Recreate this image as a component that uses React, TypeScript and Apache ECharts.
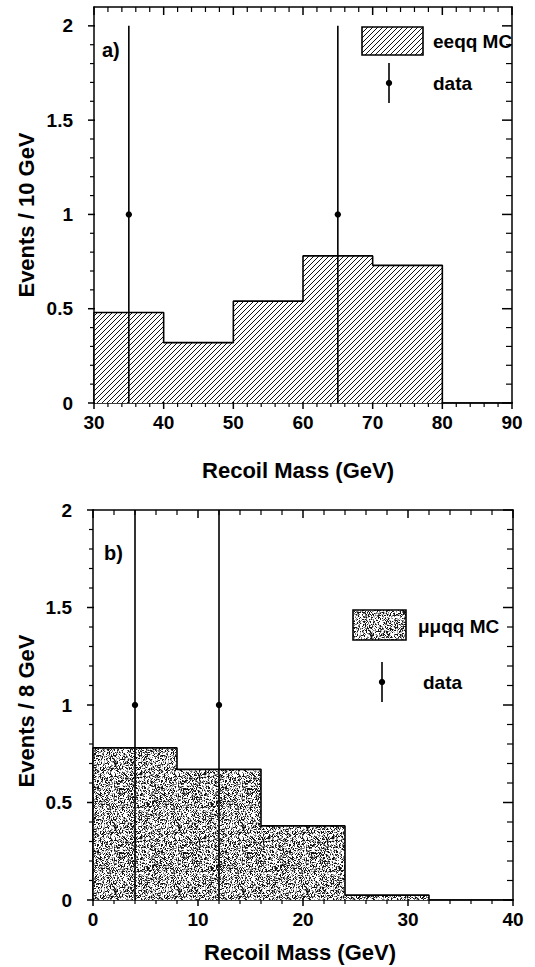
import React, { useEffect, useRef } from "react";
import * as echarts from "echarts";

// ---- data (panel a) ----
const topEdges = [30, 40, 50, 60, 70, 80, 90];
const topMC = [0.48, 0.32, 0.54, 0.78, 0.73, 0];
const topDataX = [35, 65];
const topDataY = [1, 1];
const topDataLo = [0, 0];
const topDataHi = [2, 2];
const topXTicks = [30, 40, 50, 60, 70, 80, 90];
const topYTicks = [0, 0.5, 1, 1.5, 2];

// ---- data (panel b) ----
const botEdges = [0, 8, 16, 24, 32, 40];
const botMC = [0.78, 0.67, 0.38, 0.025, 0];
const botDataX = [4, 12];
const botDataY = [1, 1];
const botDataLo = [0, 0];
const botDataHi = [2, 2];
const botXTicks = [0, 10, 20, 30, 40];
const botYTicks = [0, 0.5, 1, 1.5, 2];

const FONT = '"Liberation Sans", Arial, Helvetica, sans-serif';

function stepPoints(edges: number[], vals: number[]) {
  const pts: number[][] = [[edges[0], 0]];
  for (let i = 0; i < vals.length; i++) {
    pts.push([edges[i], vals[i]], [edges[i + 1], vals[i]]);
  }
  pts.push([edges[edges.length - 1], 0]);
  return pts;
}

function minors(ticks: number[], n: number) {
  const out: number[] = [];
  for (let i = 0; i < ticks.length - 1; i++) {
    const step = (ticks[i + 1] - ticks[i]) / n;
    for (let k = 1; k < n; k++) out.push(ticks[i] + step * k);
  }
  return out;
}

function makeHatch() {
  const c = document.createElement("canvas");
  c.width = 5;
  c.height = 5;
  const ctx = c.getContext("2d")!;
  ctx.fillStyle = "#fff";
  ctx.fillRect(0, 0, 5, 5);
  ctx.fillStyle = "#111";
  for (let i = 0; i < 5; i++) ctx.fillRect(i, 4 - i, 1, 1);
  return c;
}

function makeStipple() {
  const n = 64;
  const c = document.createElement("canvas");
  c.width = n;
  c.height = n;
  const ctx = c.getContext("2d")!;
  const img = ctx.createImageData(n, n);
  let s = 987654321;
  const rnd = () => {
    s = (Math.imul(s, 1103515245) + 12345) >>> 0;
    return s / 4294967296;
  };
  for (let i = 0; i < n * n; i++) {
    const r = rnd();
    let v = 255;
    if (r < 0.24) v = 20;
    else if (r < 0.42) v = 115;
    else if (r < 0.52) v = 185;
    img.data[i * 4] = v;
    img.data[i * 4 + 1] = v;
    img.data[i * 4 + 2] = v;
    img.data[i * 4 + 3] = 255;
  }
  ctx.putImageData(img, 0, 0);
  return c;
}

function axesFor(
  gridIndex: number,
  xmin: number,
  xmax: number,
  xint: number,
  ymax: number
) {
  const line = { show: true, onZero: false, lineStyle: { color: "#000", width: 1.5 } };
  const label = {
    color: "#000",
    fontSize: 19,
    fontWeight: "bold" as const,
    fontFamily: FONT,
  };
  const base = {
    type: "value",
    gridIndex,
    axisLine: line,
    axisTick: { show: false },
    minorTick: { show: false },
    splitLine: { show: false },
  };
  const xBottom = {
    ...base,
    min: xmin,
    max: xmax,
    interval: xint,
    position: "bottom",
    axisLabel: { ...label, margin: 10 },
  };
  const xTop = { ...xBottom, position: "top", axisLabel: { show: false } };
  const yLeft = {
    ...base,
    min: 0,
    max: ymax,
    interval: 0.5,
    position: "left",
    axisLabel: { ...label, margin: 21, showMaxLabel: ymax === 2 },
  };
  const yRight = { ...yLeft, position: "right", axisLabel: { show: false } };
  return { x: [xBottom, xTop], y: [yLeft, yRight] };
}

// error bars + frame ticks, all placed through api.coord
function makeRender(xTicks: number[], yTicks: number[]) {
  const xMinor = minors(xTicks, 5);
  const yMinor = minors(yTicks, 5);
  return (params: any, api: any) => {
    const x = api.value(0);
    const y = api.value(1);
    const lo = api.value(2);
    const hi = api.value(3);
    const p = api.coord([x, y]);
    const pl = api.coord([x, lo]);
    const ph = api.coord([x, hi]);
    const children: any[] = [
      {
        type: "line",
        shape: { x1: pl[0], y1: pl[1], x2: ph[0], y2: ph[1] },
        style: { stroke: "#000", lineWidth: 1.6 },
      },
      {
        type: "circle",
        shape: { cx: p[0], cy: p[1], r: 3.2 },
        style: { fill: "#000" },
      },
    ];
    if (params.dataIndex === 0) {
      const cs = params.coordSys;
      const left = cs.x;
      const top = cs.y;
      const right = cs.x + cs.width;
      const bottom = cs.y + cs.height;
      const seg = (x1: number, y1: number, x2: number, y2: number, w: number) =>
        children.push({
          type: "line",
          shape: { x1, y1, x2, y2 },
          style: { stroke: "#000", lineWidth: w },
        });
      xTicks.forEach((v) => {
        const px = api.coord([v, 0])[0];
        seg(px, bottom - 1, px, bottom + 6, 1.5);
        seg(px, top, px, top + 8, 1.5);
      });
      xMinor.forEach((v) => {
        const px = api.coord([v, 0])[0];
        seg(px, bottom, px, bottom + 4, 1.2);
        seg(px, top, px, top + 5, 1.2);
      });
      yTicks.forEach((v) => {
        const py = api.coord([xTicks[0], v])[1];
        seg(left - 6, py, left + 1, py, 1.5);
        seg(right - 10, py, right, py, 1.5);
      });
      yMinor.forEach((v) => {
        const py = api.coord([xTicks[0], v])[1];
        seg(left - 4, py, left, py, 1.2);
        seg(right - 6, py, right, py, 1.2);
      });
    }
    return { type: "group", children };
  };
}

export default function App() {
  const ref = useRef<HTMLDivElement>(null);

  useEffect(() => {
    if (!ref.current) return;
    const chart = echarts.init(ref.current, undefined, { renderer: "svg" });
    const hatch = makeHatch();
    const stipple = makeStipple();
    const hatchFill = { image: hatch, repeat: "repeat", imageWidth: 5, imageHeight: 5 };
    const stippleFill = { image: stipple, repeat: "repeat", imageWidth: 64, imageHeight: 64 };

    const a = axesFor(0, 30, 90, 10, 2.1);
    const b = axesFor(1, 0, 40, 10, 2);

    const txt = (
      text: string,
      x: number,
      y: number,
      size: number,
      align = "left",
      rotation = 0
    ) => ({
      type: "text",
      x,
      y,
      rotation,
      style: {
        text,
        fill: "#000",
        fontSize: size,
        fontWeight: "bold",
        fontFamily: FONT,
        align,
        verticalAlign: "middle",
        textAlign: align,
        textVerticalAlign: "middle",
      },
    });

    const option: any = {
      animation: false,
      backgroundColor: "#fff",
      grid: [
        { left: 94, top: 7, width: 418, height: 396 },
        { left: 93, top: 510, width: 420, height: 390 },
      ],
      xAxis: [...a.x, ...b.x],
      yAxis: [...a.y, ...b.y],
      series: [
        {
          type: "line",
          xAxisIndex: 0,
          yAxisIndex: 0,
          data: stepPoints(topEdges, topMC),
          symbol: "none",
          lineStyle: { color: "#000", width: 1.6 },
          areaStyle: { color: hatchFill, opacity: 1 },
          z: 2,
        },
        {
          type: "custom",
          xAxisIndex: 0,
          yAxisIndex: 0,
          renderItem: makeRender(topXTicks, topYTicks),
          encode: { x: 0, y: 1 },
          data: topDataX.map((x, i) => [x, topDataY[i], topDataLo[i], topDataHi[i]]),
          clip: false,
          z: 5,
        },
        {
          type: "line",
          xAxisIndex: 2,
          yAxisIndex: 2,
          data: stepPoints(botEdges, botMC),
          symbol: "none",
          lineStyle: { color: "#000", width: 1.6 },
          areaStyle: { color: stippleFill, opacity: 1 },
          z: 2,
        },
        {
          type: "custom",
          xAxisIndex: 2,
          yAxisIndex: 2,
          renderItem: makeRender(botXTicks, botYTicks),
          encode: { x: 0, y: 1 },
          data: botDataX.map((x, i) => [x, botDataY[i], botDataLo[i], botDataHi[i]]),
          clip: false,
          z: 5,
        },
      ],
      graphic: [
        {
          type: "rect",
          shape: { x: 362, y: 27, width: 61, height: 28 },
          style: { fill: hatchFill, stroke: "#000", lineWidth: 1.6 },
        },
        txt("eeqq MC", 433, 41, 19),
        {
          type: "line",
          shape: { x1: 389, y1: 63, x2: 389, y2: 103 },
          style: { stroke: "#000", lineWidth: 1.6 },
        },
        { type: "circle", shape: { cx: 389, cy: 83, r: 3.2 }, style: { fill: "#000" } },
        txt("data", 433, 83, 19),
        txt("a)", 102, 50, 20),
        {
          type: "rect",
          shape: { x: 353, y: 610, width: 53, height: 30 },
          style: { fill: stippleFill, stroke: "#000", lineWidth: 1.6 },
        },
        txt("μμqq MC", 418, 626, 19),
        {
          type: "line",
          shape: { x1: 382, y1: 662, x2: 382, y2: 702 },
          style: { stroke: "#000", lineWidth: 1.6 },
        },
        { type: "circle", shape: { cx: 382, cy: 682, r: 3.2 }, style: { fill: "#000" } },
        txt("data", 423, 682, 19),
        txt("b)", 104, 553, 20),
        txt("Events / 10 GeV", 26, 215, 22, "center", Math.PI / 2),
        txt("Events / 8 GeV", 26, 711, 22, "center", Math.PI / 2),
        txt("Recoil Mass (GeV)", 298, 470, 22, "center"),
        txt("Recoil Mass (GeV)", 300, 952, 22, "center"),
      ],
    };
    chart.setOption(option);
    return () => chart.dispose();
  }, []);

  return (
    <div
      ref={ref}
      style={{ position: "fixed", left: 0, top: 0, width: 535, height: 967, background: "#fff" }}
    />
  );
}
